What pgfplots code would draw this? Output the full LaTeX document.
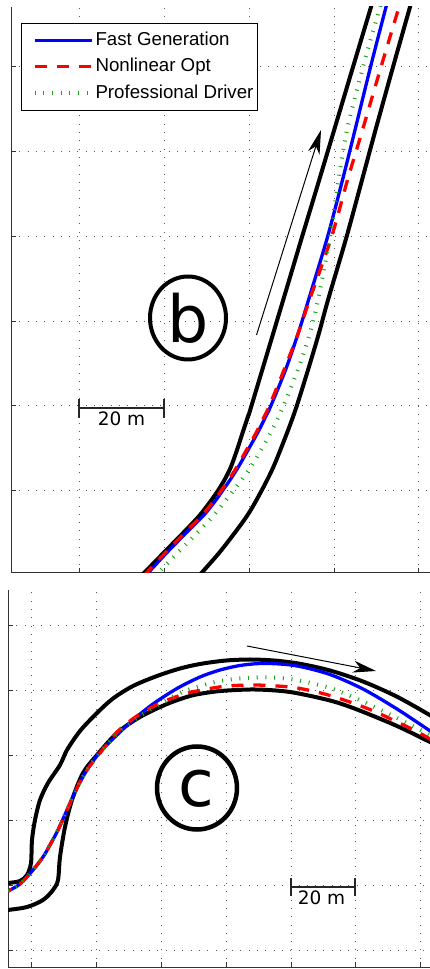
\documentclass[border=0pt]{standalone}
\usepackage{fontspec}
\setmainfont{DejaVu Sans}
\newfontfamily\legfont{Liberation Sans}
\usepackage{pgfplots}
\pgfplotsset{compat=1.18}
\usetikzlibrary{arrows.meta}

\definecolor{fgblue}{rgb}{0,0,1}
\definecolor{nlred}{rgb}{1,0,0}
\definecolor{pdgreen}{rgb}{0.1,0.65,0.1}

\pgfplotsset{
  trackstyle/.style={
    scale only axis,
    axis x line*=bottom, axis y line*=left,
    axis line style={line width=1pt, black!80},
    xticklabels={}, yticklabels={},
    tick align=inside, major tick length=5pt,
    tick style={line width=0.8pt, black!80},
    grid=major,
    major grid style={dash pattern=on 1pt off 7.3pt, line width=0.8pt, black!65},
  },
  road/.style={black, line width=4pt, smooth, forget plot},
  fast/.style={fgblue, line width=3.3pt, smooth},
  nlo/.style={nlred, line width=3.3pt, dash pattern=on 12pt off 10pt, smooth},
  pro/.style={pdgreen, line width=4pt, dash pattern=on 1pt off 7.7pt, smooth},
}

\begin{document}
\begin{tikzpicture}
\useasboundingbox (0pt,0pt) rectangle (430pt,969pt);

% ---------------- panel (b) ----------------
\begin{axis}[trackstyle,
  at={(11pt,396pt)}, anchor=south west,
  width=419pt, height=566pt,
  xmin=11, xmax=430, ymin=396, ymax=962,
  xtick={79,164,249,334,418},
  ytick={479,564,648,733,818,903},
  legend cell align=left,
  legend style={at={(0.0239,0.9717)}, anchor=north west, draw=black, line width=1pt,
    fill=white, inner xsep=4pt, inner ysep=8pt, row sep=9pt,
    font=\legfont\fontsize{18.7}{22}\selectfont,
    nodes={inner sep=0pt, text height=13.5pt, text depth=4pt},
    /tikz/every odd column/.append style={column sep=2pt}},
  legend image code/.code={\path (0pt,0pt) (64pt,0pt); \draw[#1] (7pt,0pt) -- (64pt,0pt);},
]
\addplot[road] coordinates {(141,393) (145,397) (163.5,416) (186,439) (200,454) (211.5,469) (219,480) (225,490) (231,502.3) (237,519) (242.5,536) (248.5,554) (251.2,562.3) (283.2,669) (302,732) (319.2,789) (353,902) (371,962) (373,969)};
\addplot[road] coordinates {(199,393) (201.5,396) (221.5,419) (246.5,452.3) (261,477.3) (273.5,502.3) (287,536) (296.5,562.3) (309,602.3) (319,636) (328,669) (346.5,732) (362,789) (375.5,839) (393,902) (410,962) (412,969)};
\addplot[fast] coordinates {(145,393) (148,396) (166.5,416) (189,439) (204,454) (216,469) (223,479) (230,489) (238.5,502.3) (248,519) (257.5,536) (266.5,554) (270.5,562.3) (285.5,599) (298.3,636) (308.5,669) (327.5,732) (342.5,789) (355,839) (370.5,902) (386,962) (388,969)};
\addlegendentry{Fast Generation}
\addplot[nlo] coordinates {(144,393) (146.5,396) (165,416) (187.5,439) (202.5,454) (214.5,469) (221.5,479) (228.5,489) (237,502.3) (246.5,519) (256,536) (265,554) (269,562.3) (284,599) (298.3,636) (309.5,669) (331.5,732) (347.5,789) (362.5,839) (381,902) (399,962) (401,969)};
\addlegendentry{Nonlinear Opt}
\addplot[pro] coordinates {(155,393) (158,396) (177.5,416) (200,439) (212.5,452.3) (232.5,477.3) (251,502.3) (270.5,536) (283,562.3) (299,602.3) (310,636) (318,669) (330,732) (338.5,789) (347,839) (363,902) (380,962) (382,969)};
\addlegendentry{Professional Driver}
% direction arrow
\addplot[black, line width=1pt, forget plot, -{Stealth[length=24pt, width=12pt, inset=7pt]}] coordinates {(256.5,634) (321,839)};
% scale bar
\addplot[black!85, line width=1.3pt, forget plot] coordinates {(79,561) (164,561)};
\addplot[black!85, line width=1.3pt, forget plot] coordinates {(79,551) (79,570)};
\addplot[black!85, line width=1.3pt, forget plot] coordinates {(164,551) (164,570)};
\node[anchor=base, inner sep=0pt, font=\fontsize{18.5}{20}\selectfont] at (axis cs:121.5,543) {20 m};
% panel label
\draw[line width=4pt] (axis cs:188,651) ellipse [x radius=38pt, y radius=41.5pt];
\node[inner sep=0pt, font=\fontsize{65}{70}\selectfont] at (axis cs:188.5,651) {b};
\end{axis}

% ---------------- panel (c) ----------------
\begin{axis}[trackstyle,
  at={(8pt,2pt)}, anchor=south west,
  width=422pt, height=377pt,
  xmin=8, xmax=430, ymin=2, ymax=379,
  xtick={31,96,161,226,291,355,420},
  ytick={19,84,149,214,279,344},
]
\addplot[road] coordinates {(0,86) (8,86) (20,88) (27,94) (31,106) (32,129) (35,149) (40,169) (48,186) (60,204) (67,219) (80,238) (97,256) (113,270.5) (133,283) (157,293) (180,300.5) (200,305) (225,308.4) (250,309.5) (275,308.4) (300,305.2) (330,298.5) (363,287.5) (397,272.3) (430,253.8) (440,247.4)};
\addplot[road] coordinates {(0,58) (8,59) (27,62) (43,69) (53,79) (58,89) (60,112) (65,142) (72,169) (83,196) (97,214) (117,236) (140,252) (167,265) (190,273) (205,276) (223,278.2) (255,279.5) (290,277) (330,268.5) (357,259.5) (397,243) (430,227) (440,222)};
\addplot[fast] coordinates {(0,75) (8,78) (20,85) (33,99) (43,112) (50,124) (58,139) (67,159) (77,181) (87,199) (100,217) (117,234) (133,249) (153,265) (177,280.5) (200,292) (220,299) (240,303.5) (260,305.5) (280,305) (300,302.5) (330,294.5) (363,280) (397,260) (428,239.5) (440,231.5)};
\addplot[nlo] coordinates {(0,75) (8,78) (20,85) (33,99) (43,112) (50,124) (58,139) (67,159) (77,181) (87,199) (97,212) (108,226) (117,237) (130,248) (140,255) (155,263.5) (170,270) (190,276.5) (223,282.5) (255,284) (290,282) (310,278.5) (330,273.5) (357,264.5) (377,256.5) (397,247) (415,238.5) (430,230) (440,224.5)};
\addplot[pro] coordinates {(0,75) (8,78) (20,85) (33,99) (43,112) (50,124) (58,139) (67,159) (77,181) (87,199) (98,214) (110,228) (125,242) (143,255) (160,265) (180,276) (200,283) (223,288.5) (255,291.5) (290,290) (330,281) (363,267.5) (397,251) (430,234) (440,229)};
% direction arrow
\addplot[black, line width=1pt, forget plot, -{Stealth[length=23pt, width=12pt, inset=7pt]}] coordinates {(247,323) (376,298)};
% scale bar
\addplot[black!85, line width=1.3pt, forget plot] coordinates {(291,82) (355,82)};
\addplot[black!85, line width=1.3pt, forget plot] coordinates {(291,73) (291,91)};
\addplot[black!85, line width=1.3pt, forget plot] coordinates {(355,73) (355,91)};
\node[anchor=base, inner sep=0pt, font=\fontsize{18.5}{20}\selectfont] at (axis cs:321.5,64) {20 m};
% panel label
\draw[line width=4.5pt] (axis cs:197,181) ellipse [x radius=40pt, y radius=41.5pt];
\node[inner sep=0pt, font=\fontsize{65}{70}\selectfont] at (axis cs:196,180) {c};
\end{axis}
\end{tikzpicture}
\end{document}
